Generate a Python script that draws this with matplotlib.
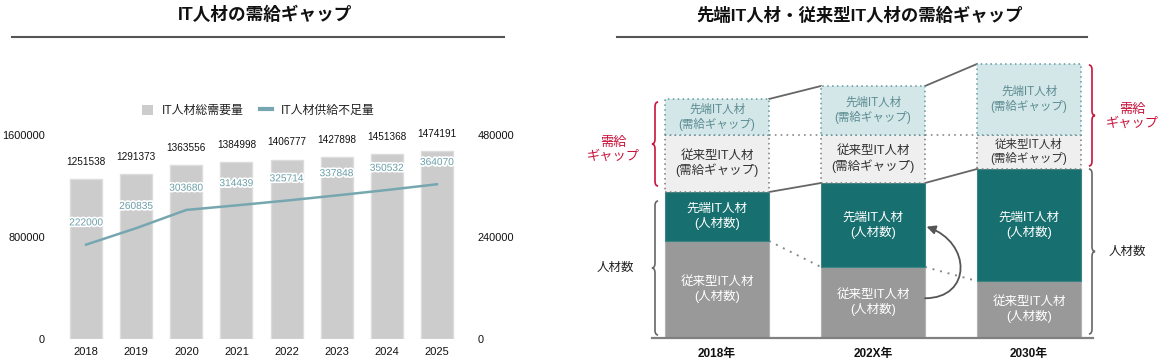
import numpy as np
import matplotlib
matplotlib.use('Agg')
import matplotlib.pyplot as plt
from matplotlib.path import Path
from matplotlib.patches import PathPatch, FancyArrowPatch, Patch
from matplotlib.lines import Line2D
import matplotlib.patheffects as pe

plt.rcParams['font.family'] = ['Liberation Sans', 'Noto Sans CJK JP', 'DejaVu Sans']

# ---------------- data ----------------
years = ['2018', '2019', '2020', '2021', '2022', '2023', '2024', '2025']
total_demand = [1251538, 1291373, 1363556, 1384998, 1406777, 1427898, 1451368, 1474191]
shortage = [222000, 260835, 303680, 314439, 325714, 337848, 350532, 364070]
left_ticks = [0, 800000, 1600000]
right_ticks = [0, 240000, 480000]
legend_labels = ['IT人材総需要量', 'IT人材供給不足量']

periods = ['2018年', '202X年', '2030年']
conv_count = [97, 71, 57]     # 従来型IT人材（人材数）
adv_count = [49, 84, 112]     # 先端IT人材（人材数）
conv_gap = [57, 48, 34]       # 従来型IT人材（需給ギャップ）
adv_gap = [36, 49, 71]        # 先端IT人材（需給ギャップ）

W, H = 1166, 362
fig = plt.figure(figsize=(W / 100, H / 100), dpi=100)


def fx(px):
    return px / W


def fy(py):
    return 1 - py / H


# ---------------- titles ----------------
fig.text(fx(265), fy(15), 'IT人材の需給ギャップ', ha='center', va='center',
         fontsize=12.7, fontweight='bold', color='#111111')
fig.text(fx(860), fy(15), '先端IT人材・従来型IT人材の需給ギャップ', ha='center', va='center',
         fontsize=12.5, fontweight='bold', color='#111111')
fig.add_artist(Line2D([fx(12), fx(504)], [fy(37), fy(37)], color='#555555', lw=1.5))
fig.add_artist(Line2D([fx(617), fx(1087)], [fy(37), fy(37)], color='#555555', lw=1.5))

# ---------------- left chart ----------------
BAR_C = '#cccccc'
LINE_C = '#76a7b0'
ax = fig.add_axes([fx(55), fy(339), fx(468 - 55), (339 - 135) / H])
xs = np.arange(len(years))
ax.bar(xs, total_demand, width=0.64, color=BAR_C, edgecolor='#dcdcdc', linewidth=1)
ax.set_ylim(0, 1600000)
ax.set_xlim(-0.62, 7.62)
ax.set_yticks(left_ticks)
ax.set_yticklabels([str(v) for v in left_ticks])
ax.set_xticks(xs)
ax.set_xticklabels(years)
ax.tick_params(axis='y', length=0, labelsize=7.9, pad=7.2, labelcolor='#111111')
ax.tick_params(axis='x', length=0, labelsize=8, pad=5.5, labelcolor='#111111')
for s in ax.spines.values():
    s.set_visible(False)
for i, v in enumerate(total_demand):
    ax.annotate(str(v), (i, v), xytext=(0, 12.5), textcoords='offset points',
                ha='center', va='center', fontsize=7.2, color='#111111')

ax2 = ax.twinx()
ax2.plot(xs, shortage, color=LINE_C, lw=1.8)
ax2.set_ylim(0, 480000)
ax2.set_yticks(right_ticks)
ax2.set_yticklabels([str(v) for v in right_ticks])
ax2.tick_params(axis='y', length=0, labelsize=7.9, pad=7.2, labelcolor='#111111')
for s in ax2.spines.values():
    s.set_visible(False)
for i, v in enumerate(shortage):
    ax2.annotate(str(v), (i, v), xytext=(0, 16), textcoords='offset points',
                 ha='center', va='center', fontsize=7.3, color='#6a9ea8',
                 path_effects=[pe.withStroke(linewidth=2.5, foreground='white')])

handles = [Patch(facecolor=BAR_C, edgecolor='none'), Line2D([], [], color=LINE_C, lw=3)]
fig.legend(handles, legend_labels, loc='center', bbox_to_anchor=(fx(258), fy(111)),
           ncol=2, frameon=False, fontsize=8.6, handlelength=1.0, handleheight=1.0,
           handletextpad=0.7, columnspacing=1.4, labelcolor='#222222')

# ---------------- right diagram ----------------
TEAL = '#17706f'
GRAY = '#999999'
ADV_GAP_C = '#d3e6e8'
CONV_GAP_C = '#efefef'
RED = '#c8143c'

axr = fig.add_axes([fx(652), fy(338), fx(1093 - 652), (338 - 60) / H])
axr.set_xlim((652 - 717) / 156, (1093 - 717) / 156)
axr.set_ylim(0, 278)
for k in ['top', 'left', 'right']:
    axr.spines[k].set_visible(False)
axr.spines['bottom'].set_color('#808080')
axr.spines['bottom'].set_linewidth(1.6)
axr.set_yticks([])
px = np.arange(len(periods))
axr.set_xticks(px)
axr.set_xticklabels(periods, fontweight='bold', fontsize=8.5, color='#111111')
axr.tick_params(axis='x', length=0, pad=7)

w = 0.667
conv_count = np.array(conv_count)
adv_count = np.array(adv_count)
conv_gap = np.array(conv_gap)
adv_gap = np.array(adv_gap)
b1 = conv_count
b2 = b1 + adv_count
b3 = b2 + conv_gap
b4 = b3 + adv_gap

axr.bar(px, conv_count, w, color=GRAY, edgecolor='#b0b0b0', lw=0.8, zorder=2)
axr.bar(px, adv_count, w, bottom=b1, color=TEAL, edgecolor='#3d8584', lw=0.8, zorder=2)
axr.bar(px, conv_gap, w, bottom=b2, color=CONV_GAP_C, edgecolor='#7a7a7a',
        lw=1.1, linestyle=(0, (1, 2.2)), zorder=2)
axr.bar(px, adv_gap, w, bottom=b3, color=ADV_GAP_C, edgecolor='#5f9aa0',
        lw=1.1, linestyle=(0, (1, 2.2)), zorder=2)

for i in px:
    axr.text(i, b1[i] / 2, '従来型IT人材\n(人材数)', ha='center', va='center',
             fontsize=9, color='white', linespacing=1.25, zorder=3)
    axr.text(i, b1[i] + adv_count[i] / 2, '先端IT人材\n(人材数)', ha='center', va='center',
             fontsize=9, color='white', linespacing=1.25, zorder=3)
    axr.text(i, b2[i] + conv_gap[i] / 2, '従来型IT人材\n(需給ギャップ)', ha='center', va='center',
             fontsize=9 if i < 2 else 8.3, color='#333333', linespacing=1.15, zorder=3)
    axr.text(i, b3[i] + adv_gap[i] / 2, '先端IT人材\n(需給ギャップ)', ha='center', va='center',
             fontsize=8.3, color='#5b8c92', linespacing=1.2, zorder=3)

# connectors between columns
for i in range(len(periods) - 1):
    xa, xb = i + w / 2, i + 1 - w / 2
    axr.plot([xa, xb], [b4[i], b4[i + 1]], color='#666666', lw=1.3, zorder=1)
    axr.plot([xa, xb], [b2[i], b2[i + 1]], color='#666666', lw=1.3, zorder=1)
    axr.plot([xa, xb], [b3[i], b3[i + 1]], color='#888888', lw=1.2,
             linestyle=(0, (1, 2.5)), zorder=1)
    axr.plot([xa, xb], [b1[i], b1[i + 1]], color='#888888', lw=1.4,
             linestyle=(0, (1, 3)), zorder=1)

# curved arrow (従来型 -> 先端)
x0 = 1 + w / 2
yA = b1[1] * 0.56
yB = b1[1] + adv_count[1] * 0.48
arc = Path([(x0, yA), (x0 + 0.3, yA), (x0 + 0.3, yB - 16), (x0 + 0.01, yB)],
           [Path.MOVETO, Path.CURVE4, Path.CURVE4, Path.CURVE4])
axr.add_patch(FancyArrowPatch(path=arc, arrowstyle='-|>', mutation_scale=13,
                              color='#555555', lw=1.3, zorder=4))


def brace(ax, x, y0, y1, d, color, h=0.02, r=5):
    ym = (y0 + y1) / 2
    verts = [(x - d * h, y1), (x, y1), (x, y1 - r),
             (x, ym + r),
             (x, ym), (x + d * h, ym),
             (x, ym), (x, ym - r),
             (x, y0 + r),
             (x, y0), (x - d * h, y0)]
    codes = [Path.MOVETO, Path.CURVE3, Path.CURVE3, Path.LINETO,
             Path.CURVE3, Path.CURVE3, Path.CURVE3, Path.CURVE3,
             Path.LINETO, Path.CURVE3, Path.CURVE3]
    ax.add_patch(PathPatch(Path(verts, codes), facecolor='none', edgecolor=color,
                           lw=1.2, clip_on=False))


xl = (655 - 717) / 156
xrt = (1092 - 717) / 156
brace(axr, xl, b2[0] + 6, b4[0] - 3, -1, RED)
brace(axr, xl, 3, b2[0] - 9, -1, '#666666')
brace(axr, xrt, b2[2] + 3, b4[2] - 1, 1, RED)
brace(axr, xrt, 4, b2[2], 1, '#666666')

axr.text((613 - 717) / 156, (b2[0] + b4[0]) / 2 - 4, '需給\nギャップ', ha='center', va='center',
         fontsize=9.5, color=RED, linespacing=1.15, clip_on=False)
axr.text((615 - 717) / 156, (3 + b2[0] - 9) / 2, '人材数', ha='center', va='center',
         fontsize=9, color='#222222', clip_on=False)
axr.text((1132 - 717) / 156, (b2[2] + b4[2]) / 2, '需給\nギャップ', ha='center', va='center',
         fontsize=9.5, color=RED, linespacing=1.15, clip_on=False)
axr.text((1127 - 717) / 156, (4 + b2[2]) / 2, '人材数', ha='center', va='center',
         fontsize=9, color='#222222', clip_on=False)

fig.savefig('out.png', dpi=100)
